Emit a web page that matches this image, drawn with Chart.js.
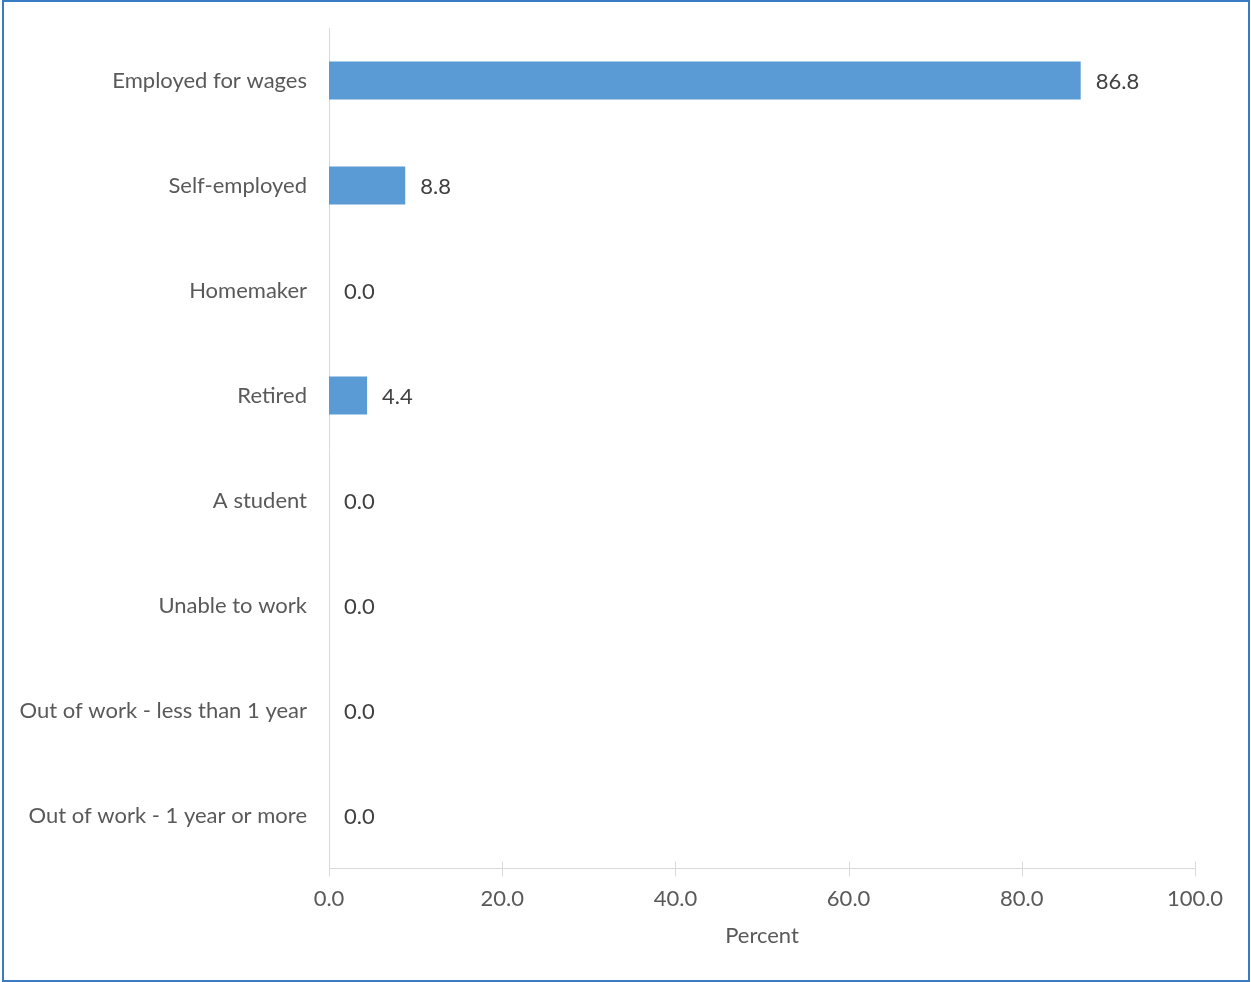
<!DOCTYPE html>
<html>
<head>
<meta charset="utf-8">
<script src="https://cdn.jsdelivr.net/npm/chart.js@4/dist/chart.umd.min.js"></script>
<style>
    html, body { margin: 0; padding: 0; background: #fff; }
    #wrap { position: relative; width: 1251px; height: 982px; }
    #frame { position: absolute; left: 2px; top: 0; width: 1248px; height: 982px; border: 2px solid #3a7cc3; box-sizing: border-box; pointer-events: none; }
    canvas { position: absolute; left: 0; top: 0; }
</style>
</head>
<body>
<div id="wrap">
    <canvas id="chart" width="1251" height="982"></canvas>
    <div id="frame"></div>
</div>
<script>
const categories = ['Employed for wages', 'Self-employed', 'Homemaker', 'Retired', 'A student',
                    'Unable to work', 'Out of work - less than 1 year', 'Out of work - 1 year or more'];
const percents = [86.8, 8.8, 0.0, 4.4, 0.0, 0.0, 0.0, 0.0];
const xTicks = [0, 20, 40, 60, 80, 100];

const fontFamily = 'Lato, "Open Sans", sans-serif';
const fontSize = 22;
const gridColor = '#d9d9d9';

// value labels at the end of each bar
const barLabels = {
    id: 'barLabels',
    afterDatasetsDraw(chart) {
        const ctx = chart.ctx;
        const meta = chart.getDatasetMeta(0);
        ctx.save();
        ctx.font = `${fontSize}px ${fontFamily}`;
        ctx.fillStyle = '#404040';
        ctx.textAlign = 'left';
        ctx.textBaseline = 'middle';
        meta.data.forEach((bar, i) => {
            ctx.fillText(percents[i].toFixed(1), bar.x + 15, bar.y + 1);
        });
        ctx.restore();
    }
};

// small tick marks crossing the x axis
const crossTicks = {
    id: 'crossTicks',
    afterDraw(chart) {
        const ctx = chart.ctx;
        const x = chart.scales.x;
        const yAxis = Math.round(chart.chartArea.bottom) + 0.5;
        ctx.save();
        ctx.strokeStyle = gridColor;
        ctx.lineWidth = 1;
        ctx.beginPath();
        x.ticks.forEach(t => {
            const px = Math.round(x.getPixelForValue(t.value)) + 0.5;
            ctx.moveTo(px, yAxis - 7);
            ctx.lineTo(px, yAxis + 8);
        });
        ctx.moveTo(chart.chartArea.left, yAxis);
        ctx.lineTo(chart.chartArea.right, yAxis);
        ctx.stroke();
        ctx.restore();
    }
};

new Chart(document.getElementById('chart'), {
    type: 'bar',
    data: {
        labels: categories,
        datasets: [{data: percents, backgroundColor: '#5b9bd5', categoryPercentage: 1, barPercentage: 0.36}]
    },
    options: {
        indexAxis: 'y',
        responsive: false,
        animation: false,
        layout: {padding: {left: 0, right: 56, top: 28, bottom: 33}},
        plugins: {legend: {display: false}, tooltip: {enabled: false}},
        scales: {
            x: {
                min: 0,
                max: 100,
                afterBuildTicks: scale => { scale.ticks = xTicks.map(v => ({value: v})); },
                grid: {display: false, drawTicks: false},
                border: {display: false},
                ticks: {
                    color: '#595959',
                    font: {family: fontFamily, size: fontSize},
                    padding: 18,
                    callback: v => v.toFixed(1)
                },
                title: {display: true, text: 'Percent', color: '#595959',
                        font: {family: fontFamily, size: fontSize}, padding: {top: 10, bottom: 0}},
                afterFit: scale => {
                    scale.height = 81;
                    scale.paddingLeft = 0;
                    scale.paddingRight = 0;
                }
            },
            y: {
                grid: {display: false, drawTicks: false},
                border: {display: true, color: gridColor, width: 1},
                ticks: {color: '#595959', font: {family: fontFamily, size: fontSize}, padding: 22},
                afterFit: scale => {
                    scale.width = 329;
                    scale.paddingTop = 0;
                    scale.paddingBottom = 0;
                }
            }
        }
    },
    plugins: [barLabels, crossTicks]
});
</script>
</body>
</html>
